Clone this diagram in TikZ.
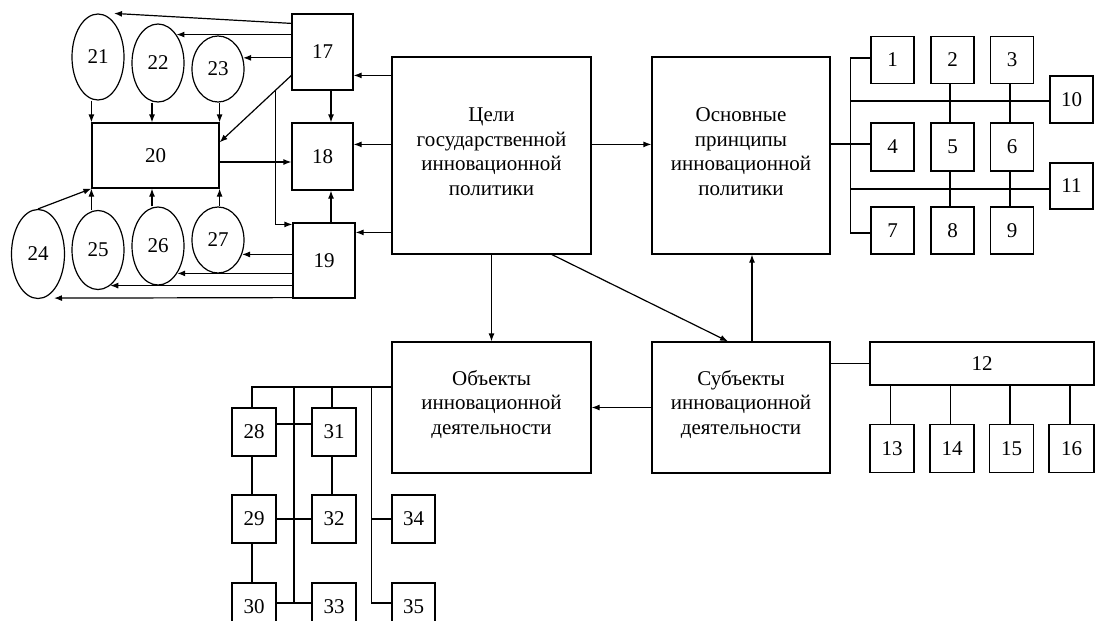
\documentclass[tikz,border=0pt]{standalone}
\usepackage{fontspec}
\setmainfont{Liberation Serif}
\usetikzlibrary{arrows.meta,shapes.geometric,calc}
\begin{document}
\begin{tikzpicture}[x=1pt,y=-1pt,
  line width=1.2pt,
  every node/.style={font=\fontsize{21}{24.5}\selectfont},
  box/.style={draw, rectangle, inner sep=0pt, align=center},
  caption/.style={inner sep=0pt, align=center},
  sq/.style={box, minimum width=43pt, minimum height=47pt},
  sqb/.style={box, minimum width=44pt, minimum height=48pt},
  oval/.style={draw, ellipse, inner sep=0pt, minimum width=52pt},
  big/.style={box, minimum height=197pt},
  mid/.style={box, minimum height=131pt},
  arr/.style={-{Latex[length=8pt,width=6pt]}},
  ]
\useasboundingbox (0,0) rectangle (1097,630);
\begin{scope}
\clip (0,0) rectangle (1097,620);

% ---- main blocks ----
\node[big, minimum width=199pt] (goal) at (491.5,155.5) {};
\node[big, minimum width=178pt] (princ) at (741,155.5) {};
\node[mid, minimum width=199pt] (obj) at (491.5,407.5) {};
\node[mid, minimum width=178pt] (subj) at (741,407.5) {};
\node[caption] (goalT) at ([yshift=4pt]goal.center)
  {Цели\\государственной\\инновационной\\политики};
\node[caption] (princT) at ([yshift=4pt]princ.center)
  {Основные\\принципы\\инновационной\\политики};
\node[caption] (objT) at ([yshift=3pt]obj.center)
  {Объекты\\инновационной\\деятельности};
\node[caption] (subjT) at ([yshift=3pt]subj.center)
  {Субъекты\\инновационной\\деятельности};

% ---- left cluster ----
\node[box, minimum width=61pt, minimum height=76pt] (n17) at (322.5,52) {17};
\node[box, minimum width=61pt, minimum height=67pt] (n18) at (322.5,156.5) {18};
\node[box, minimum width=62pt, minimum height=75pt] (n19) at (324,260.5) {19};
\node[box, minimum width=127pt, minimum height=65pt] (n20) at (155.5,155.5) {20};

\node[oval, minimum height=86pt] (e21) at (98,57) {21};
\node[oval, minimum height=78pt] (e22) at (158,63) {22};
\node[oval, minimum height=66pt] (e23) at (218,69) {23};
\node[oval, minimum width=53pt, minimum height=89pt] (e24) at (38,254) {24};
\node[oval, minimum height=79pt] (e25) at (98,250) {25};
\node[oval, minimum height=78pt] (e26) at (158,246) {26};
\node[oval, minimum height=66pt] (e27) at (218,240) {27};

% goals to 17, 18, 19
\coordinate (g17) at ([yshift=-19pt]goal.north west);
\coordinate (g18) at ([yshift=-88pt]goal.north west);
\coordinate (g19) at ([yshift=-176pt]goal.north west);
\draw[arr] (g17) -- (g17 -| n17.east);
\draw[arr] (g18) -- (g18 -| n18.east);
\draw[arr] (g19) -- (g19 -| n19.east);

% 17 to the upper ovals
\draw[arr] ([yshift=-10pt]n17.north west) -- ([xshift=16pt]e21.north);
\draw[arr] (n17.west |- e22.57) -- (e22.57);
\draw[arr] (n17.west |- e23.24) -- (e23.24);

% 17 to 20, with a branch down to 19
\coordinate (s17) at ([yshift=-62pt]n17.north west);
\coordinate (t20) at ([yshift=-20pt]n20.north east);
\draw[arr] (s17) -- (t20);
\coordinate (b17) at ($(s17)!0.222!(t20)$);
\draw[arr] (b17) |- ([yshift=-2pt]n19.north west);

% 17 and 19 to 18, 20 to 18
\draw[arr] ([xshift=8.5pt]n17.south) -- ([xshift=8.5pt]n18.north);
\draw[arr] ([xshift=7pt]n19.north) -- ([xshift=8.5pt]n18.south);
\coordinate (c20) at ([yshift=-6.5pt]n20.east);
\draw[arr] (c20) -- (c20 -| n18.west);

% ovals to 20
\coordinate (a22) at ([xshift=-6pt]e22.south);
\coordinate (a26) at ([xshift=-6pt]e26.north);
\draw[arr] (n20.north west |- e21.south) -- (n20.north west);
\draw[arr] (a22) -- (a22 |- n20.north);
\draw[arr] (n20.north east |- e23.south) -- (n20.north east);
\draw[arr] (e24.north) -- (n20.south west);
\draw[arr] (n20.south west |- e25.north) -- (n20.south west);
\draw[arr] (a26) -- (a26 |- n20.south);
\draw[arr] (n20.south east |- e27.north) -- (n20.south east);

% 19 to the lower ovals
\draw[arr] (n19.west |- e27.-31) -- (e27.-31);
\draw[arr] (n19.west |- e26.-55) -- (e26.-55);
\draw[arr] (n19.west |- e25.-71) -- (e25.-71);
\draw[arr] ([yshift=1pt]n19.south west) -- ([xshift=16pt,yshift=1pt]e24.south);

% ---- principles cluster ----
\node[sq] (n1) at (892.5,60) {1};
\node[sq] (n2) at (952.5,60) {2};
\node[sq] (n3) at (1012,60) {3};
\node[sq] (n10) at (1071.5,99.5) {10};
\node[sq, minimum height=48pt] (n4) at (892.5,147) {4};
\node[sq, minimum height=48pt] (n5) at (952.5,147) {5};
\node[sq, minimum height=48pt] (n6) at (1012,147) {6};
\node[sq, minimum height=46pt] (n11) at (1071.5,186) {11};
\node[sq] (n7) at (892.5,230.5) {7};
\node[sq] (n8) at (952.5,230.5) {8};
\node[sq] (n9) at (1012,230.5) {9};

\coordinate (gp) at ([yshift=-88pt]goal.north east);
\draw[arr] (gp) -- (gp -| princ.west);
\coordinate (c4) at ([yshift=3pt]n4.west);
\draw (c4 -| princ.east) -- (c4);
\coordinate (busR) at ([xshift=-20pt]n4.west);
\coordinate (c1) at ([yshift=2pt]n1.west);
\coordinate (c7) at ([yshift=-2.5pt]n7.west);
\coordinate (c10) at ([yshift=-1.5pt]n10.west);
\coordinate (c11) at ([yshift=-3pt]n11.west);
\draw (c1) -- (c1 -| busR) -- (c7 -| busR) -- (c7);
\draw (c10 -| busR) -- (c10);
\draw (c11 -| busR) -- (c11);
\draw ([xshift=-2.5pt]n2.south) -- ([xshift=-2.5pt]n5.north);
\draw ([xshift=-2pt]n3.south) -- ([xshift=-2pt]n6.north);
\draw ([xshift=-2.5pt]n5.south) -- ([xshift=-2.5pt]n8.north);
\draw ([xshift=-2pt]n6.south) -- ([xshift=-2pt]n9.north);

% ---- subjects cluster ----
\node[box, minimum width=224pt, minimum height=43pt] (n12) at (982,363.5) {12};
\node[sqb] (n13) at (892,448.5) {13};
\node[sqb] (n14) at (952,448.5) {14};
\node[sqb] (n15) at (1011.5,448.5) {15};
\node[sqb, minimum width=45pt] (n16) at (1071.5,448.5) {16};

\draw[arr] (goal.south) -- (obj.north);
\draw[arr] ([xshift=60.5pt]goal.south) -- ([xshift=-13pt]subj.north);
\draw[arr] ([xshift=11pt]subj.north) -- ([xshift=11pt]princ.south);
\draw[arr] (subj.west) -- (obj.east);
\draw (subj.east |- n12.west) -- (n12.west);
\foreach \k in {13,14,15,16}{
  \coordinate (u\k) at ([xshift=-1.5pt]n\k.north);
  \draw (u\k) -- (u\k |- n12.south);
}

% ---- objects cluster ----
\node[sqb] (n28) at (254,432) {28};
\node[sqb] (n29) at (254,519) {29};
\node[sqb] (n30) at (254,607) {30};
\node[sqb] (n31) at (334,432) {31};
\node[sqb] (n32) at (334,519) {32};
\node[sqb] (n33) at (334,607) {33};
\node[sqb, minimum width=43pt] (n34) at (413.5,519) {34};
\node[sqb, minimum width=43pt] (n35) at (413.5,607) {35};

\coordinate (busL) at ([yshift=20.5pt]obj.west);
\coordinate (v1) at ($(n28.east)!0.5!(n31.west)$);
\coordinate (v2) at ([xshift=-20pt]n34.west);
\coordinate (t28) at ([xshift=-2pt]n28.north);
\coordinate (t31) at ([xshift=-2pt]n31.north);
\coordinate (h30) at ([yshift=4pt]n30.east);
\coordinate (h35) at ([yshift=4pt]n35.west);
\draw (busL) -- (busL -| t28) -- (t28);
\draw (t31 |- busL) -- (t31);
\draw (v1 |- busL) -- (v1 |- h30);
\draw (v2 |- busL) -- (v2 |- h35) -- (h35);
\draw (v2 |- n34.west) -- (n34.west);
\draw ([yshift=8pt]n28.east) -- ([yshift=8pt]n31.west);
\draw (n29.east) -- (n32.west);
\draw (h30) -- (h30 -| n33.west);
\draw ([xshift=-2pt]n28.south) -- ([xshift=-2pt]n29.north);
\draw ([xshift=-2pt]n29.south) -- ([xshift=-2pt]n30.north);
\draw ([xshift=-2pt]n31.south) -- ([xshift=-2pt]n32.north);
\end{scope}
\end{tikzpicture}
\end{document}
